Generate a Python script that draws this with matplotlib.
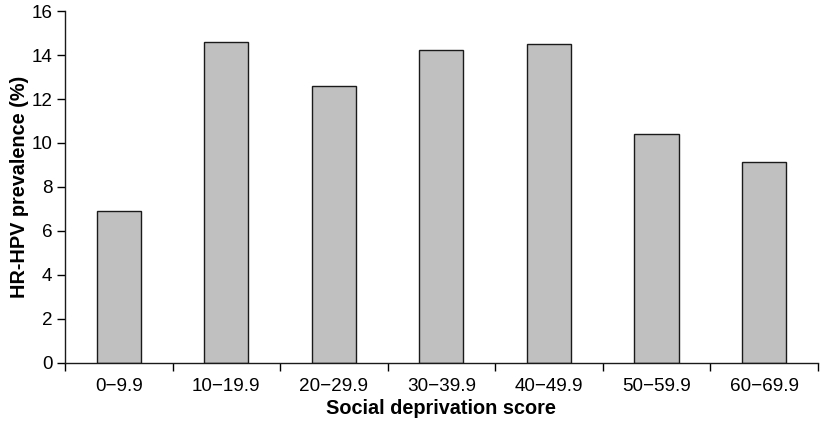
import numpy as np
import matplotlib.pyplot as plt

# 数据
categories = ['0\u22129.9', '10\u221219.9', '20\u221229.9', '30\u221239.9',
              '40\u221249.9', '50\u221259.9', '60\u221269.9']
prevalence = [6.9, 14.58, 12.6, 14.23, 14.5, 10.4, 9.12]

plt.rcParams['font.family'] = ['Liberation Sans', 'DejaVu Sans']

fig = plt.figure(figsize=(8.22, 4.24), dpi=100)
ax = fig.add_axes([0.079, 0.144, 0.916, 0.830])

x = np.arange(len(categories))
ax.bar(x, prevalence, width=0.41, color='#c0c0c0', edgecolor='#1a1a1a', linewidth=1.0)

ax.set_xlim(-0.5, len(categories) - 0.5)
ax.set_ylim(0, 16)
ax.set_yticks(np.arange(0, 17, 2))

# x轴刻度在类别之间，标签居中
ax.set_xticks(np.arange(-0.5, len(categories), 1.0))
ax.set_xticklabels([])
ax.set_xticks(x, minor=True)
ax.set_xticklabels(categories, minor=True)
ax.tick_params(axis='x', which='minor', length=0, pad=11, labelsize=13.6)
ax.tick_params(axis='x', which='major', length=6, width=1.0, direction='out')
ax.tick_params(axis='y', length=6, width=1.0, direction='out', labelsize=13.6, pad=3)

for s in ['top', 'right']:
    ax.spines[s].set_visible(False)
for s in ['left', 'bottom']:
    ax.spines[s].set_linewidth(1.0)
    ax.spines[s].set_color('#1a1a1a')

ax.set_xlabel('Social deprivation score', fontsize=14.3, fontweight='bold', labelpad=3)
ax.set_ylabel('HR-HPV prevalence (%)', fontsize=14.3, fontweight='bold', labelpad=2)

plt.savefig('out.png', dpi=100)
